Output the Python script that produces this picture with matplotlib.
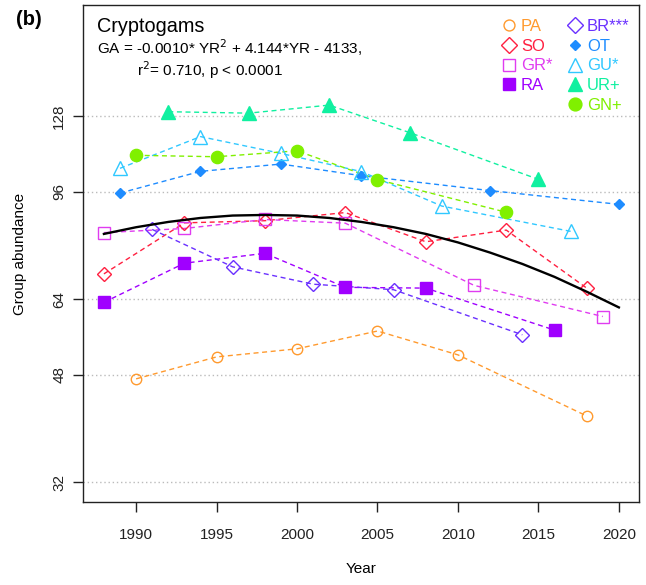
import matplotlib
matplotlib.use("Agg")
import matplotlib.pyplot as plt
from matplotlib.lines import Line2D
import numpy as np

plt.rcParams['font.family'] = ['Liberation Sans', 'DejaVu Sans']

# ---- data ----
pa_years = [1990, 1995, 2000, 2005, 2010, 2018]
pa_vals = [47.3, 51.4, 53.0, 56.7, 51.8, 41.1]

so_years = [1988, 1993, 1998, 2003, 2008, 2013, 2018]
so_vals = [70.4, 85.4, 86.1, 88.8, 79.5, 83.1, 66.7]

gr_years = [1988, 1993, 1998, 2003, 2011, 2019]
gr_vals = [82.3, 83.6, 86.5, 85.3, 67.4, 59.9]

ra_years = [1988, 1993, 1998, 2003, 2008, 2016]
ra_vals = [63.2, 73.3, 76.1, 66.9, 66.7, 56.9]

br_years = [1991, 1996, 2001, 2006, 2014]
br_vals = [83.3, 72.3, 67.7, 66.3, 55.9]

ot_years = [1989, 1994, 1999, 2004, 2012, 2020]
ot_vals = [95.6, 103.8, 106.7, 102.1, 96.5, 91.6]

gu_years = [1989, 1994, 1999, 2004, 2009, 2017]
gu_vals = [105.0, 118.4, 111.1, 103.7, 91.0, 82.7]

ur_years = [1992, 1997, 2002, 2007, 2015]
ur_vals = [130.1, 129.4, 133.4, 120.2, 100.7]

gn_years = [1990, 1995, 2000, 2005, 2013]
gn_vals = [110.3, 109.7, 112.2, 100.6, 88.9]

fit_years = [1988, 1990, 1992, 1994, 1996, 1998, 2000, 2002, 2004, 2006,
             2008, 2010, 2012, 2014, 2016, 2018, 2020]
fit_vals = [81.9, 84.0, 85.7, 87.0, 87.8, 88.0, 87.8, 87.0, 85.7, 84.0,
            81.9, 79.3, 76.3, 73.1, 69.6, 65.8, 62.0]

y_ticks = [32, 48, 64, 96, 128]
x_ticks = [1990, 1995, 2000, 2005, 2010, 2015, 2020]

series = [
    # label, years, vals, color, marker, filled, size
    ("PA", pa_years, pa_vals, "#FF9A2E", "o", False, 7.5),
    ("SO", so_years, so_vals, "#FF2040", "D", False, 7.6),
    ("GR*", gr_years, gr_vals, "#E03CF0", "s", False, 8.2),
    ("RA", ra_years, ra_vals, "#A000FF", "s", True, 8.0),
    ("BR***", br_years, br_vals, "#6A30FF", "D", False, 7.6),
    ("OT", ot_years, ot_vals, "#1E8CFF", "D", True, 5.0),
    ("GU*", gu_years, gu_vals, "#30C8FF", "^", False, 10),
    ("UR+", ur_years, ur_vals, "#10F0A0", "^", True, 10),
    ("GN+", gn_years, gn_vals, "#80F000", "o", True, 8.8),
]

fig = plt.figure(figsize=(6.46, 5.85), dpi=100)
ax = fig.add_axes([83/646, 1-502/585, (639-83)/646, (502-5)/585])
ax.set_yscale('log')
ax.set_xlim(1986.7, 2021.25)
ax.set_ylim(29.67, 194.9)

for yt in y_ticks:
    ax.axhline(yt, color='#BBBBBB', lw=1.0, ls=(0, (1, 2)), zorder=0)

handles = {}
for label, xs, ys, col, mk, filled, ms in series:
    ax.plot(xs, ys, color=col, lw=1.0, ls=(0, (3.6, 2.6)), zorder=2)
    ax.plot(xs, ys, ls='none', marker=mk, ms=ms, mec=col,
            mfc=col if filled else 'none', mew=1.0, zorder=3)
    handles[label] = Line2D([], [], ls='none', marker=mk, ms=ms * 1.05, mec=col,
                            mfc=col if filled else 'none', mew=1.0)

ax.plot(fit_years, fit_vals, color='black', lw=1.7, zorder=4)

ax.set_yticks(y_ticks)
ax.set_yticklabels([str(v) for v in y_ticks], rotation=90, va='center')
ax.yaxis.set_minor_locator(matplotlib.ticker.NullLocator())
ax.set_xticks(x_ticks)
ax.tick_params(axis='both', direction='out', length=7, width=1, labelsize=11, colors='#222222')
ax.tick_params(axis='x', pad=12)
ax.tick_params(axis='y', pad=5)
for s in ax.spines.values():
    s.set_linewidth(1.0)
    s.set_color('#222222')

ax.set_xlabel("Year", fontsize=11, labelpad=14)
ax.set_ylabel("Group abundance", fontsize=11, labelpad=18)

def fig_px(x, y):
    return x/646, 1 - y/585

fig.text(*fig_px(97, 32), "Cryptogams", fontsize=14.3, va='baseline', ha='left')
fig.text(*fig_px(97, 54), r"GA = -0.0010* YR$^2$ + 4.144*YR - 4133,",
         fontsize=11, va='baseline', ha='left')
fig.text(*fig_px(137, 76), r"r$^2$= 0.710, p < 0.0001",
         fontsize=11, va='baseline', ha='left')
fig.text(*fig_px(16, 25), "(b)", fontsize=14.5, fontweight='bold', va='baseline', ha='left')

order1 = ["PA", "SO", "GR*", "RA"]
order2 = ["BR***", "OT", "GU*", "UR+", "GN+"]
blank = Line2D([], [], ls='none')
hl = [handles[k] for k in order1] + [blank] + [handles[k] for k in order2]
ll = order1 + [""] + order2
leg = ax.legend(hl, ll, ncol=2, loc='upper left', bbox_to_anchor=(0.739, 0.9857),
                frameon=False, fontsize=12, handlelength=1.0, handletextpad=0.22,
                columnspacing=0.85, labelspacing=0.29, borderaxespad=0.0, borderpad=0.4)
colors = {s[0]: s[3] for s in series}
for t in leg.get_texts():
    if t.get_text() in colors:
        t.set_color(colors[t.get_text()])

fig.savefig("out.png", dpi=100)
